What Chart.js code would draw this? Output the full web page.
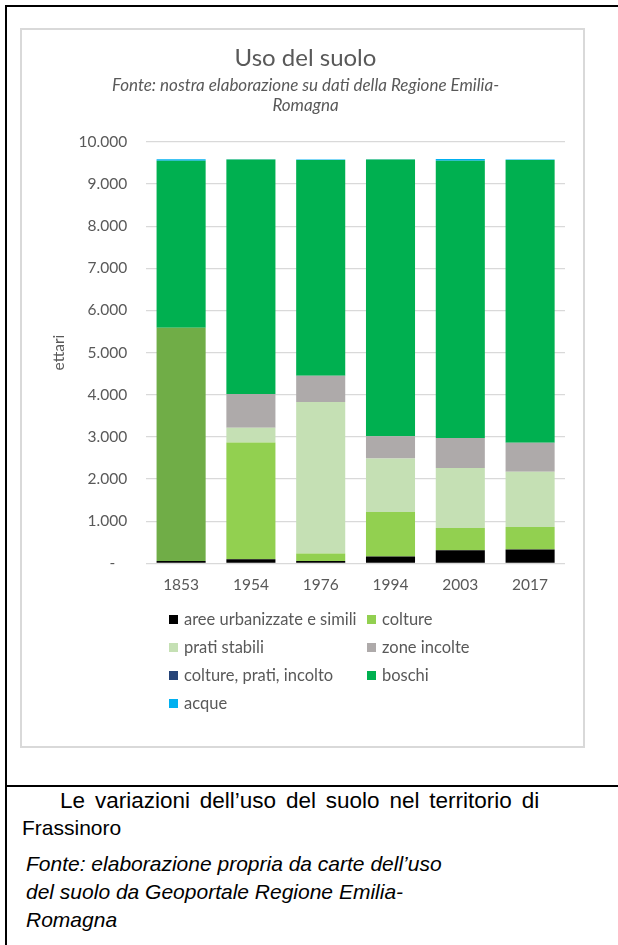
<!DOCTYPE html>
<html lang="it">
<head>
<meta charset="utf-8">
<title>Uso del suolo</title>
<script src="https://cdn.jsdelivr.net/npm/chart.js@4"></script>
<style>
  html, body { margin: 0; padding: 0; background: #fff; }
  body { width: 618px; height: 945px; position: relative; overflow: hidden; }
  .line { position: absolute; background: #000; }
  #box { position: absolute; left: 20px; top: 28px; width: 561px; height: 716px; border: 2px solid #d9d9d9; }
  #wrap { position: absolute; left: 22px; top: 30px; width: 561px; height: 590px; }
  #legend { position: absolute; left: 169px; top: 605px; width: 400px; font-family: Lato, sans-serif; font-size: 16.5px; color: #595959; }
  #legend .item { display: inline-flex; align-items: center; width: 198px; height: 28px; white-space: nowrap; }
  #legend .sw { width: 9px; height: 9px; margin-right: 6px; flex: none; }
  .cap { position: absolute; font-family: "Liberation Sans", Arial, sans-serif; font-size: 21px; color: #000; white-space: nowrap; }
  .cap.it { font-style: italic; }
</style>
</head>
<body>
<div class="line" style="left:5px; top:5px; width:613px; height:2px"></div>
<div class="line" style="left:5px; top:5px; width:2px; height:940px"></div>
<div class="line" style="left:5px; top:785px; width:613px; height:2px"></div>
<div id="box"></div>
<div id="wrap"><canvas id="myChart"></canvas></div>
<div id="legend"></div>

<div class="cap" style="left:60px; top:788px; font-size:22.5px; word-spacing:3.6px">Le variazioni dell’uso del suolo nel territorio di</div>
<div class="cap" style="left:22px; top:816px">Frassinoro</div>
<div class="cap it" style="left:26px; top:852px">Fonte: elaborazione propria da carte dell’uso</div>
<div class="cap it" style="left:26px; top:880px">del suolo da Geoportale Regione Emilia-</div>
<div class="cap it" style="left:26px; top:908px">Romagna</div>

<script>
// anni di rilevazione
let years = ['1853', '1954', '1976', '1994', '2003', '2017'];

// superfici in ettari, una serie per tipo di uso
let aree = [55, 95, 55, 160, 310, 330];
let colture = [0, 2770, 175, 1060, 530, 530];
let prati = [0, 350, 3600, 1265, 1420, 1310];
let incolte = [0, 800, 620, 530, 715, 690];
let misto = [5535, 0, 0, 0, 0, 0];
let boschi = [3960, 5565, 5120, 6570, 6580, 6710];
let acque = [40, 10, 10, 5, 40, 15];

let seriesNames = ['aree urbanizzate e simili', 'colture', 'prati stabili', 'zone incolte',
                   'colture, prati, incolto', 'boschi', 'acque'];
let barColors = ['#000000', '#92d050', '#c5e0b4', '#aeaaaa', '#70ad47', '#00b050', '#00b0f0'];
let legendColors = ['#000000', '#92d050', '#c5e0b4', '#aeaaaa', '#264478', '#00b050', '#00b0f0'];

let yTicks = [0, 1000, 2000, 3000, 4000, 5000, 6000, 7000, 8000, 9000, 10000];

let allSeries = [aree, colture, prati, incolte, misto, boschi, acque];

var ctx = document.getElementById('myChart');
var myChart = new Chart(ctx, {
    type: 'bar',
    data: {
        labels: years,
        datasets: allSeries.map(function (vals, i) {
            return {
                label: seriesNames[i],
                data: vals,
                backgroundColor: barColors[i],
                borderWidth: 0,
                categoryPercentage: 0.703,
                barPercentage: 1
            };
        })
    },
    options: {
        responsive: true,
        maintainAspectRatio: false,
        animation: false,
        layout: { padding: { left: 24, right: 18, top: 0, bottom: 12.7 } },
        plugins: {
            legend: { display: false },
            tooltip: { enabled: false },
            title: {
                display: true,
                text: 'Uso del suolo',
                color: '#595959',
                font: { family: 'Lato', size: 24, weight: 'normal' },
                padding: { top: 14, bottom: 3 }
            },
            subtitle: {
                display: true,
                text: ['Fonte: nostra elaborazione su dati della Regione Emilia-', 'Romagna'],
                color: '#595959',
                font: { family: 'Lato', size: 17, style: 'italic', lineHeight: 1.15 },
                padding: { top: 0, bottom: 27 }
            }
        },
        scales: {
            x: {
                stacked: true,
                grid: { display: false, drawTicks: false },
                border: { display: false },
                ticks: { color: '#595959', font: { family: 'Lato', size: 15.5 }, padding: 12.7 }
            },
            y: {
                stacked: true,
                min: 0,
                max: 10000,
                afterBuildTicks: function (axis) {
                    axis.ticks = yTicks.map(function (v) { return { value: v }; });
                },
                grid: { color: '#d9d9d9', lineWidth: 1.3, drawTicks: false },
                border: { display: false },
                title: {
                    display: true,
                    text: 'ettari',
                    color: '#595959',
                    font: { family: 'Lato', size: 15.5 },
                    padding: { top: 4, bottom: -9 }
                },
                ticks: {
                    color: '#595959',
                    font: { family: 'Lato', size: 15.5 },
                    padding: 19,
                    callback: function (v) {
                        if (v === 0) return '-   ';
                        return v.toLocaleString('it-IT');
                    }
                }
            }
        }
    }
});

// legenda a due colonne costruita dalle serie del grafico
var legendBox = document.getElementById('legend');
myChart.data.datasets.forEach(function (ds, i) {
    var item = document.createElement('span');
    item.className = 'item';
    var sw = document.createElement('span');
    sw.className = 'sw';
    sw.style.background = legendColors[i];
    item.appendChild(sw);
    item.appendChild(document.createTextNode(ds.label));
    legendBox.appendChild(item);
});
</script>
</body>
</html>
